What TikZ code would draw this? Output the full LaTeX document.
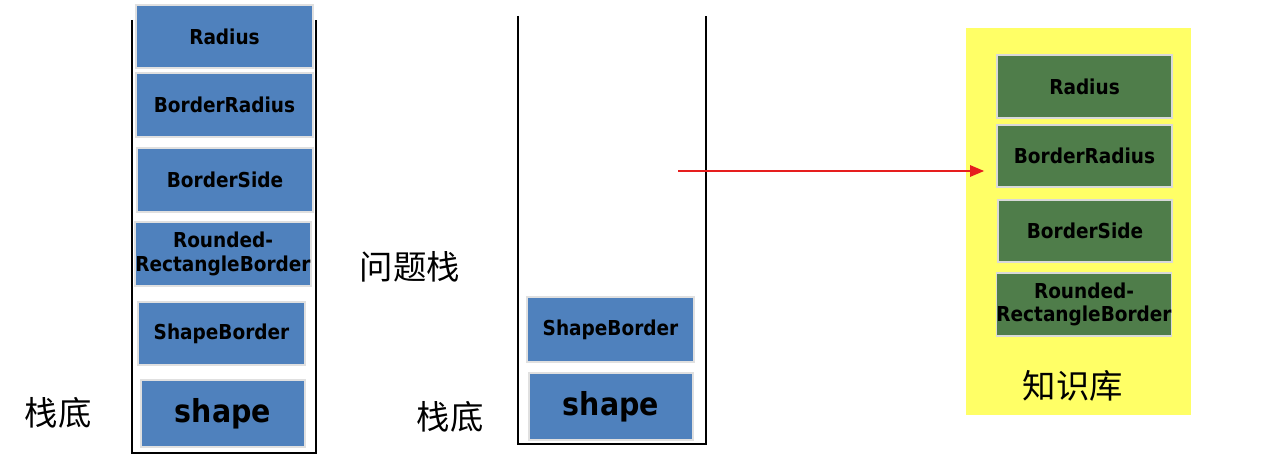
\documentclass[tikz,border=0pt]{standalone}
\usepackage{fontspec}
\newfontfamily\boxfont{DejaVu Sans Condensed}
\newfontfamily\cjk{Noto Sans CJK SC}
\usetikzlibrary{arrows.meta}
\definecolor{boxblue}{RGB}{79,129,189}
\definecolor{boxgreen}{RGB}{79,125,74}
\definecolor{kbyellow}{RGB}{255,255,102}
\definecolor{arrred}{RGB}{230,30,30}
\tikzset{
  stackbox/.style={rectangle, inner sep=0pt, align=center, text=black,
    font=\boxfont\bfseries\fontsize{11.7pt}{13.2pt}\selectfont,
    draw=black!12, line width=1pt},
  bluebox/.style={stackbox, fill=boxblue},
  greenbox/.style={stackbox, fill=boxgreen, draw=black!15},
  bigtext/.style={font=\boxfont\bfseries\fontsize{18pt}{20pt}\selectfont},
  cjklabel/.style={font=\cjk\fontsize{19pt}{22pt}\selectfont, inner sep=0pt},
  wall/.style={draw=black, line width=1.2pt},
}
\begin{document}
\begin{tikzpicture}[x=0.02cm,y=-0.02cm]
\useasboundingbox (0,0) rectangle (1270,459);
% left stack
\draw[wall] (132,20) -- (132,453) -- (316,453) -- (316,20);
\node[bluebox, minimum width=3.54cm, minimum height=1.26cm] (l1) at (224.5,36.5) {Radius};
\node[bluebox, minimum width=3.54cm, minimum height=1.28cm] (l2) at (224.5,105) {BorderRadius};
\node[bluebox, minimum width=3.52cm, minimum height=1.28cm] (l3) at (225,180) {BorderSide};
\node[bluebox, minimum width=3.52cm, minimum height=1.28cm] (l4) at (223,254) {Rounded-\\RectangleBorder};
\node[bluebox, minimum width=3.34cm, minimum height=1.26cm] (l5) at (221.5,333.5) {ShapeBorder};
\node[bluebox, bigtext, minimum width=3.28cm, minimum height=1.34cm] (l6) at (223,413.5) {shape};
\node[cjklabel] (lbase) at (58,413) {栈底};
% middle stack
\draw[wall] (518,16) -- (518,444) -- (706,444) -- (706,16);
\node[bluebox, minimum width=3.34cm, minimum height=1.30cm] (m1) at (610.5,329.5) {ShapeBorder};
\node[bluebox, bigtext, minimum width=3.28cm, minimum height=1.34cm] (m2) at (611,406.5) {shape};
\node[cjklabel] (qstack) at (410,267) {问题栈};
\node[cjklabel] (mbase) at (450,417) {栈底};
% knowledge base
\fill[kbyellow] (966,28) rectangle (1191,415);
\node[greenbox, minimum width=3.50cm, minimum height=1.26cm] (k1) at (1084.5,86.5) {Radius};
\node[greenbox, minimum width=3.50cm, minimum height=1.24cm] (k2) at (1084.5,156) {BorderRadius};
\node[greenbox, minimum width=3.48cm, minimum height=1.24cm] (k3) at (1085,231) {BorderSide};
\node[greenbox, minimum width=3.48cm, minimum height=1.26cm] (k4) at (1084,304.5) {Rounded-\\RectangleBorder};
\node[cjklabel] (kb) at (1073,386) {知识库};
% arrow
\coordinate (astart) at (678,171);
\draw[arrred, line width=0.9pt, -{Triangle[length=8pt,width=6.5pt]}] (astart) -- ([xshift=-12*0.02cm]k2.west |- astart);
\end{tikzpicture}
\end{document}
